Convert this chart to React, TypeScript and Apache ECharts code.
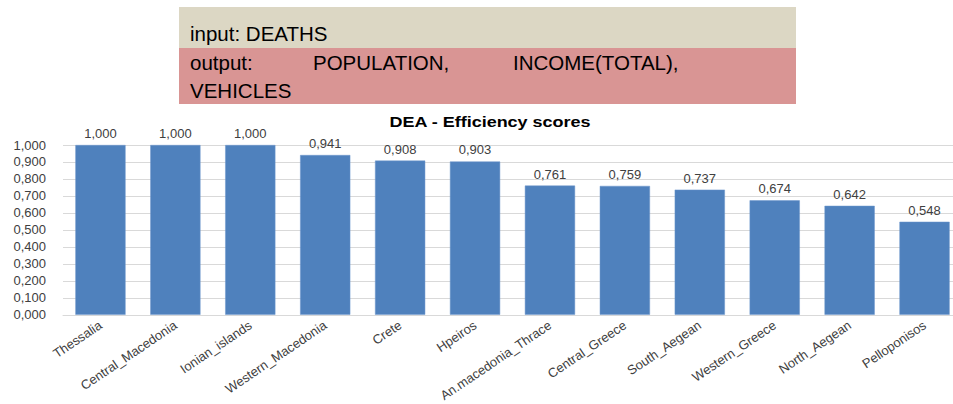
import React, { useEffect, useRef } from "react";
import * as echarts from "echarts";

const categories = [
  "Thessalia",
  "Central_Macedonia",
  "Ionian_islands",
  "Western_Macedonia",
  "Crete",
  "Hpeiros",
  "An.macedonia_Thrace",
  "Central_Greece",
  "South_Aegean",
  "Western_Greece",
  "North_Aegean",
  "Pelloponisos",
];
const scores = [1.0, 1.0, 1.0, 0.941, 0.908, 0.903, 0.761, 0.759, 0.737, 0.674, 0.642, 0.548];
const chartTitle = "DEA - Efficiency scores";
const inputLine = "input: DEATHS";
const outputWords = ["output:", "POPULATION,", "INCOME(TOTAL),"];
const outputLine2 = "VEHICLES";

const fmt = (v: number) => v.toFixed(3).replace(".", ",");

export default function App() {
  const ref = useRef<HTMLDivElement>(null);
  useEffect(() => {
    if (!ref.current) return;
    const chart = echarts.init(ref.current, undefined, { renderer: "svg" });
    const font = "Liberation Sans, Arial, sans-serif";
    const headerFont = `20.5px ${font}`;
    chart.setOption({
      animation: false,
      backgroundColor: "#ffffff",
      grid: { left: 63, right: 0, top: 145, bottom: 89, containLabel: false },
      graphic: [
        { type: "rect", shape: { x: 179, y: 7, width: 617, height: 41 }, style: { fill: "#dcd7c4" }, z: 0 },
        { type: "rect", shape: { x: 179, y: 48, width: 617, height: 56 }, style: { fill: "#d99594" }, z: 0 },
        { type: "text", x: 190, y: 33.5, style: { text: inputLine, font: headerFont, fill: "#000", verticalAlign: "middle" }, z: 1 },
        { type: "text", x: 190, y: 62, style: { text: outputWords[0], font: headerFont, fill: "#000", verticalAlign: "middle" }, z: 1 },
        { type: "text", x: 313, y: 62, style: { text: outputWords[1], font: headerFont, fill: "#000", verticalAlign: "middle" }, z: 1 },
        { type: "text", x: 513, y: 62, style: { text: outputWords[2], font: headerFont, fill: "#000", verticalAlign: "middle" }, z: 1 },
        { type: "text", x: 190, y: 90, style: { text: outputLine2, font: headerFont, fill: "#000", verticalAlign: "middle" }, z: 1 },
        {
          type: "text",
          x: 490,
          y: 122,
          scaleX: 1.2,
          style: {
            text: chartTitle,
            font: `bold 15px ${font}`,
            fill: "#000",
            align: "center",
            verticalAlign: "middle",
          },
          z: 1,
        },
      ],
      xAxis: {
        type: "category",
        data: categories,
        axisLine: { show: true, lineStyle: { color: "#d9d9d9", width: 1 } },
        axisTick: { show: false },
        axisLabel: {
          interval: 0,
          rotate: 34,
          margin: 9,
          color: "#404040",
          fontSize: 13,
          fontFamily: font,
        },
      },
      yAxis: {
        type: "value",
        min: 0,
        max: 1,
        interval: 0.1,
        axisLine: { show: false },
        axisTick: { show: false },
        splitLine: { lineStyle: { color: "#d9d9d9", width: 1 } },
        axisLabel: {
          formatter: (v: number) => fmt(v),
          color: "#404040",
          fontSize: 13,
          fontFamily: font,
          margin: 17,
        },
      },
      series: [
        {
          type: "bar",
          data: scores,
          barCategoryGap: "33%",
          itemStyle: { color: "#4f81bd", borderColor: "#6d97cc", borderWidth: 0.5 },
          label: {
            show: true,
            position: "top",
            distance: 5,
            formatter: (p: any) => fmt(p.value),
            color: "#404040",
            fontSize: 13,
            fontFamily: font,
          },
        },
      ],
    });
    return () => chart.dispose();
  }, []);
  return (
    <div style={{ position: "absolute", left: 0, top: 0, width: 953, height: 404, overflow: "hidden", background: "#fff" }}>
      <div ref={ref} style={{ width: 962, height: 404 }} />
    </div>
  );
}
